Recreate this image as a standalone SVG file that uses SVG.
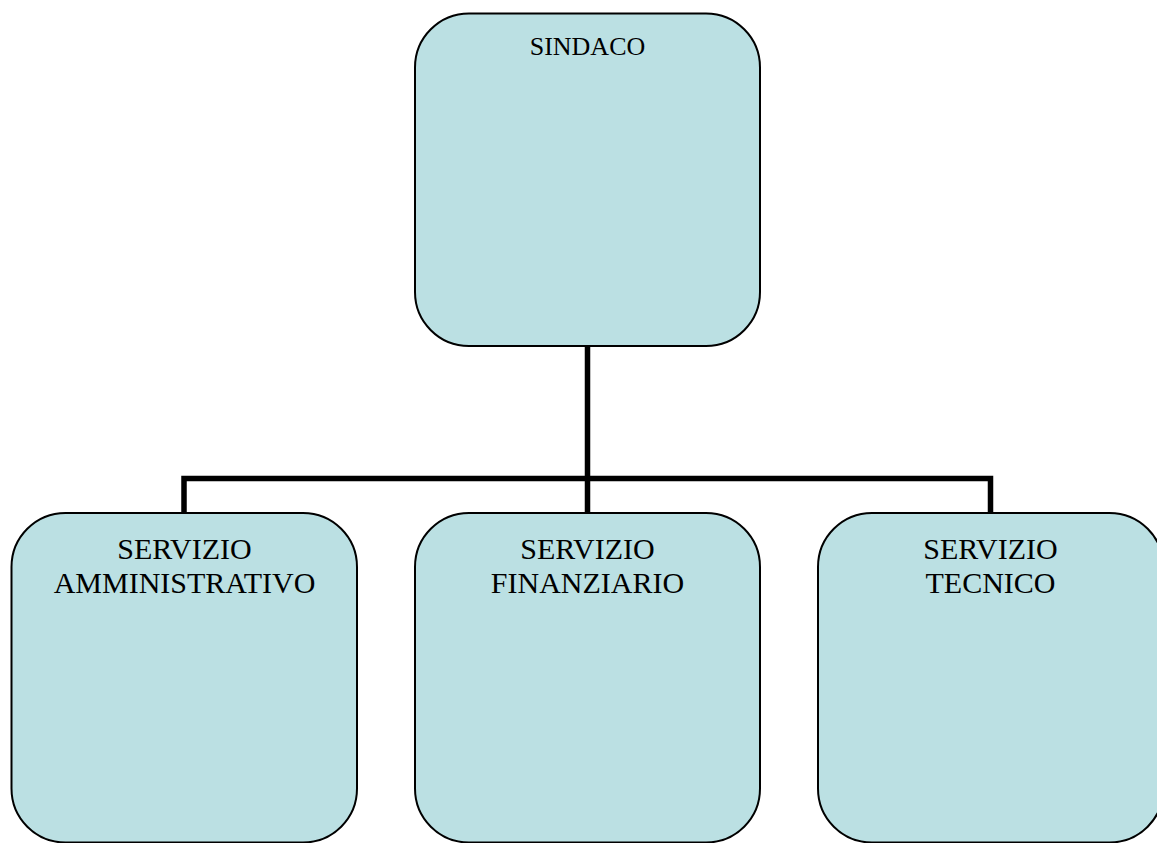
<svg xmlns="http://www.w3.org/2000/svg" width="1157" height="843" viewBox="0 0 1157 843">
<style>
.box{fill:#BBE0E3;stroke:#000;stroke-width:2}
.conn{fill:none;stroke:#000;stroke-width:5.5;stroke-linejoin:miter}
.t{font-family:"Liberation Serif","Times New Roman",serif;fill:#000;text-anchor:middle}
.t1{font-size:26px}
.t2{font-size:30px}
</style>
<rect width="1157" height="843" fill="#fff"/>
<g id="connectors">
<path class="conn" d="M587.5 346 V478.5 M184 513 V478.5 H990.5 V513 M587.5 478.5 V513"/>
</g>
<g id="sindaco">
<rect class="box" x="415" y="13.5" width="345" height="332.5" rx="54" ry="54"/>
<text class="t t1" x="587.5" y="55">SINDACO</text>
</g>
<g id="servizio-amministrativo">
<rect class="box" x="11.5" y="513" width="345.5" height="329.5" rx="54" ry="54"/>
<text class="t t2" x="184.5" y="559">SERVIZIO</text>
<text class="t t2" x="184.5" y="593">AMMINISTRATIVO</text>
</g>
<g id="servizio-finanziario">
<rect class="box" x="415" y="513" width="345" height="329.5" rx="54" ry="54"/>
<text class="t t2" x="587.5" y="559">SERVIZIO</text>
<text class="t t2" x="587.5" y="593">FINANZIARIO</text>
</g>
<g id="servizio-tecnico">
<rect class="box" x="818" y="513" width="345.5" height="329.5" rx="54" ry="54"/>
<text class="t t2" x="990.5" y="559">SERVIZIO</text>
<text class="t t2" x="990.5" y="593">TECNICO</text>
</g>
</svg>
